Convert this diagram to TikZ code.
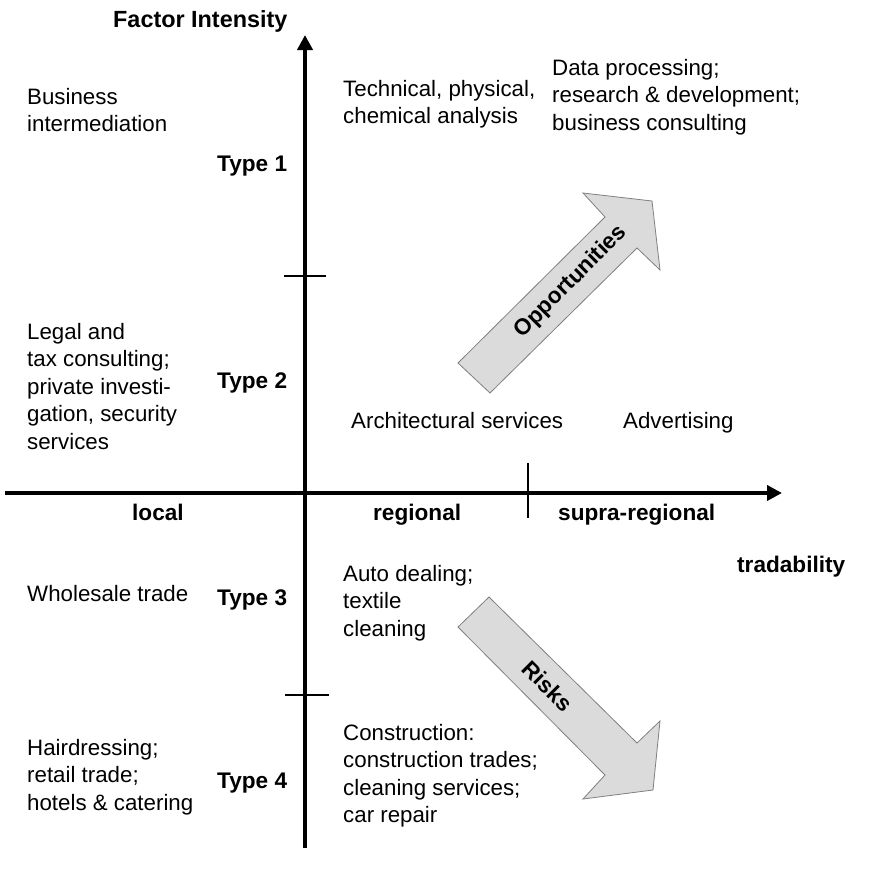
\documentclass[tikz,border=0pt]{standalone}
\usepackage{fontspec}
\setmainfont{Liberation Sans}
\usetikzlibrary{arrows.meta}
\tikzset{
  axisL/.style={draw=black, line width=4pt,
                -{Triangle[length=15pt, width=15pt]}},
  tickL/.style={draw=black, line width=2pt},
  txt/.style={anchor=base west, inner sep=0pt, align=left,
              font=\fontsize{22.3}{27.5}\selectfont},
  txtB/.style={txt, font=\fontsize{22.6}{27.5}\selectfont\bfseries},
  bigArrow/.style={draw=gray, line width=0.8pt, fill=black!14},
  arrowLbl/.style={inner sep=0pt, font=\fontsize{22.6}{27.5}\selectfont\bfseries},
}

\begin{document}
\begin{tikzpicture}[x=1pt, y=-1pt]
    \useasboundingbox (0,0) rectangle (875,873);

    %% axes
    \coordinate (yBot)   at (305,848);
    \coordinate (yTop)   at (305,35);
    \coordinate (xLeft)  at (5,493);
    \coordinate (xRight) at (782,493);
    \draw[axisL] (yBot) -- (yTop);
    \draw[axisL] (xLeft) -- (xRight);

    %% ticks
    \draw[tickL] (284,276) -- (326,276);
    \draw[tickL] (285,695) -- (329,695);
    \draw[tickL] (528,463) -- (528,518);

    %% opportunities arrow
    \draw[bigArrow] (490,393) -- (458,363) -- (605,217) -- (583,193)
                    -- (652,201) -- (660,270) -- (637,248) -- cycle;
    \node[arrowLbl, rotate=45] (opp) at (571,282) {Opportunities};

    %% risks arrow
    \draw[bigArrow] (489,597) -- (458,627) -- (605,775) -- (583,799)
                    -- (653,790) -- (660,721) -- (637,743) -- cycle;
    \node[arrowLbl, rotate=-45] (risk) at (548,686) {Risks};

    %% axis titles
    \node[txtB, font=\fontsize{23.4}{27.5}\selectfont\bfseries]
          (factor) at (113,27)  {Factor Intensity};
    \node[txtB] (trad)   at (737,572) {tradability};
    \node[txtB] (local)  at (132,520) {local};
    \node[txtB] (region) at (373,520) {regional};
    \node[txtB] (supra)  at (558,520) {supra-regional};

    %% types
    \node[txtB] (type1) at (217,171) {Type 1};
    \node[txtB] (type2) at (217,388) {Type 2};
    \node[txtB] (type3) at (217,605) {Type 3};
    \node[txtB] (type4) at (217,788) {Type 4};

    %% local services (base = last line)
    \node[txt] (busi)  at (27,131.5) {Business\\intermediation};
    \node[txt] (legal) at (27,449)   {Legal and\\tax consulting;\\private investi-\\gation, security\\services};
    \node[txt] (whole) at (27,601)   {Wholesale trade};
    \node[txt] (hair)  at (27,810)   {Hairdressing;\\retail trade;\\hotels \& catering};

    %% regional and supra-regional services
    \node[txt] (tech)   at (343,123.5) {Technical, physical,\\chemical analysis};
    \node[txt] (data)   at (552,130)   {Data processing;\\research \& development;\\business consulting};
    \node[txt] (arch)   at (351,428)   {Architectural services};
    \node[txt] (advert) at (623,428)   {Advertising};
    \node[txt] (auto)   at (343,636)   {Auto dealing;\\textile\\cleaning};
    \node[txt] (constr) at (343,822.5) {Construction:\\construction trades;\\cleaning services;\\car repair};
\end{tikzpicture}
\end{document}
